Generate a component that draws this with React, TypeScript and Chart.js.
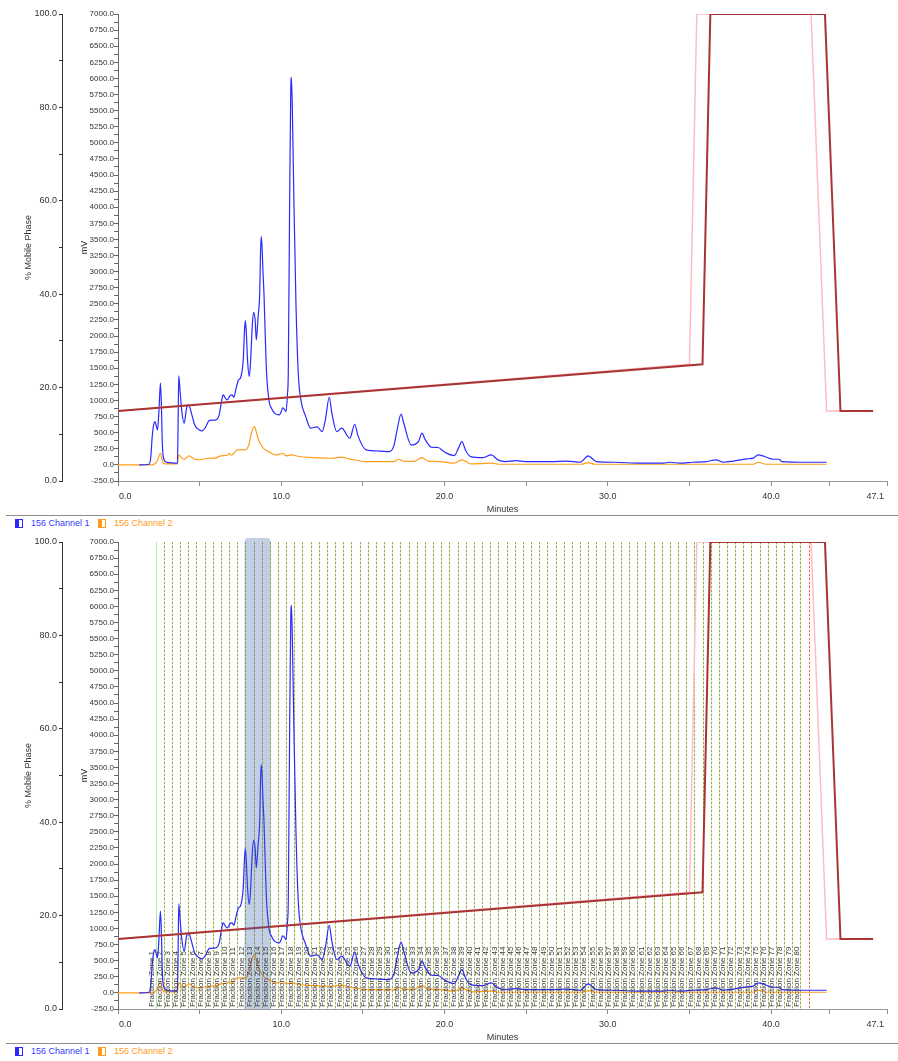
import React, { useEffect, useRef } from 'react';
import { Chart, registerables } from 'chart.js';

Chart.register(...registerables);

const FONT = '"Liberation Sans", Arial, sans-serif';

// ---- Channel 1 (blue), mV ----
const blueTime = [1.3, 1.9, 2.0, 2.1, 2.2, 2.27, 2.35, 2.42, 2.5, 2.6, 2.66, 2.72, 2.82, 3.0, 3.3, 3.64, 3.68, 3.72, 3.8, 3.9, 4.05, 4.2, 4.33, 4.5, 4.7, 5.0, 5.15, 5.35, 5.6, 6.0, 6.2, 6.35, 6.44, 6.6, 6.7, 6.85, 6.98, 7.1, 7.2, 7.38, 7.5, 7.67, 7.75, 7.8, 7.86, 7.94, 8.04, 8.12, 8.22, 8.3, 8.4, 8.47, 8.58, 8.68, 8.73, 8.77, 8.82, 8.88, 8.94, 9.02, 9.1, 9.26, 9.4, 9.6, 9.88, 10.0, 10.08, 10.2, 10.29, 10.38, 10.43, 10.51, 10.58, 10.62, 10.68, 10.78, 10.9, 11.04, 11.2, 11.5, 11.8, 12.2, 12.5, 12.7, 12.94, 13.1, 13.4, 13.7, 14.2, 14.5, 14.7, 15.2, 16.0, 16.6, 16.9, 17.1, 17.34, 17.5, 17.96, 18.4, 18.62, 18.8, 19.2, 19.6, 20.0, 20.6, 20.85, 21.06, 21.3, 21.6, 22.35, 22.86, 23.27, 23.7, 24.4, 24.95, 26.5, 27.5, 28.3, 28.8, 29.3, 30.5, 31.96, 33.4, 33.8, 34.4, 35.2, 36.05, 36.6, 37.1, 37.7, 38.5, 38.9, 39.2, 39.6, 40.15, 40.5, 40.65, 42.2, 43.4];
const blueMv = [0, 10, 100, 450, 640, 672, 600, 545, 800, 1268, 900, 300, 80, 40, 30, 26, 600, 1381, 1150, 850, 647, 880, 931, 800, 620, 540, 528, 580, 690, 700, 780, 1000, 1086, 1030, 1009, 1070, 1086, 1050, 1150, 1319, 1350, 1630, 2100, 2240, 2050, 1600, 1370, 1600, 2150, 2370, 2250, 1940, 2300, 2665, 3300, 3543, 3400, 3000, 2665, 2000, 1428, 983, 880, 800, 776, 830, 885, 860, 828, 1100, 1428, 4009, 5800, 6017, 5500, 4009, 2500, 1428, 1009, 750, 570, 590, 517, 700, 1050, 800, 517, 570, 414, 631, 450, 233, 215, 207, 300, 550, 787, 650, 310, 362, 492, 400, 274, 270, 200, 144, 260, 362, 220, 129, 113, 155, 78, 52, 67, 52, 52, 60, 41, 140, 52, 41, 26, 26, 41, 26, 41, 52, 78, 41, 60, 93, 104, 155, 130, 88, 88, 52, 41, 41];

// ---- Channel 2 (orange), mV ----
const orangeTime = [0, 2.1, 2.4, 2.6, 2.72, 2.82, 3.64, 3.72, 3.9, 4.05, 4.34, 4.7, 5.0, 5.5, 6.0, 6.3, 6.7, 6.82, 6.95, 7.3, 7.8, 8.0, 8.2, 8.37, 8.5, 8.65, 8.9, 9.2, 9.7, 10.1, 10.3, 10.6, 11.1, 11.9, 13.1, 13.7, 14.2, 15.2, 16.9, 17.2, 17.5, 18.2, 18.6, 19.0, 19.7, 20.6, 21.06, 21.6, 22.86, 23.4, 28.4, 28.8, 29.2, 38.9, 39.2, 39.7, 43.4];
const orangeMv = [0, 0, 60, 181, 60, 15, 15, 155, 110, 88, 140, 88, 80, 103, 110, 140, 150, 175, 150, 233, 233, 300, 520, 595, 480, 362, 260, 207, 155, 181, 140, 155, 130, 115, 103, 120, 90, 52, 52, 88, 55, 60, 114, 60, 52, 26, 78, 16, 26, 10, 10, 36, 10, 10, 41, 10, 10];

// ---- Gradient (% mobile phase) ----
const actualTime = [0, 35.8, 36.28, 43.3, 44.25, 46.25];
const actualPct = [15, 25, 100, 100, 15, 15];
const programTime = [0, 35.0, 35.45, 42.45, 43.4, 46.25];
const programPct = [15, 25, 100, 100, 15, 15];

// ---- Axes ----
const xMin = 0;
const xMax = 47.1;
const xTickValues = [0, 5, 10, 15, 20, 25, 30, 35, 40, 43.6, 47.1];
const xLabelValues = [0, 10, 20, 30, 40, 47.1];
const pctTickValues = [0, 10, 20, 30, 40, 50, 60, 70, 80, 90, 100];
const pctLabelStep = 20;
const mvMin = -250;
const mvMax = 7000;
const mvMinorStep = 125;
const mvLabelStep = 250;

// ---- Fraction collection ----
const zoneFirst = 2.3;
const zoneWidth = 0.5;
const zoneCount = 80;
const collectionEnd = 42.3;
const selectedStart = 7.75;
const selectedEnd = 9.35;

const legendItems = [
  { name: '156 Channel 1', color: '#2a2aff', text: '#3a3aff' },
  { name: '156 Channel 2', color: '#ff9d1c', text: '#ff9a1a' },
];

const pts = (xs: number[], ys: number[]) => xs.map((x, i) => ({ x, y: ys[i] }));

const xLabelPlugin = {
  id: 'xLabels',
  afterDraw(chart: any) {
    const { ctx } = chart;
    const x = chart.scales.x;
    ctx.save();
    ctx.font = `9px ${FONT}`;
    ctx.fillStyle = '#333';
    ctx.textBaseline = 'middle';
    xLabelValues.forEach((v, i) => {
      const px = x.getPixelForValue(v);
      let align: CanvasTextAlign = 'center';
      let dx = 0;
      if (i === 0) { align = 'left'; dx = 1; }
      else if (i === xLabelValues.length - 1) { align = 'right'; dx = -3; }
      ctx.textAlign = align;
      ctx.fillText(v.toFixed(1), px + dx, x.top + 16);
    });
    ctx.restore();
  },
};

const zonePlugin = {
  id: 'zones',
  beforeDatasetsDraw(chart: any) {
    const { ctx, chartArea } = chart;
    const x = chart.scales.x;
    const { top, bottom } = chartArea;
    const vline = (px: number) => {
      ctx.beginPath();
      ctx.moveTo(px, top);
      ctx.lineTo(px, bottom);
      ctx.stroke();
    };
    ctx.save();
    ctx.lineWidth = 1;
    for (let k = 0; k < zoneCount; k++) {
      const px = Math.round(x.getPixelForValue(zoneFirst + k * zoneWidth)) + 0.5;
      if (k === 0) {
        ctx.setLineDash([]);
        ctx.strokeStyle = '#a8eea8';
        vline(px);
      } else {
        ctx.setLineDash([]);
        ctx.strokeStyle = '#d9e9bd';
        vline(px);
        ctx.setLineDash([2, 2]);
        ctx.strokeStyle = '#9eae3c';
        vline(px);
      }
    }
    const ex = Math.round(x.getPixelForValue(collectionEnd)) + 0.5;
    ctx.setLineDash([]);
    ctx.strokeStyle = '#ffd6d6';
    vline(ex);
    ctx.setLineDash([2, 2]);
    ctx.strokeStyle = '#ff5a5a';
    vline(ex);
    ctx.restore();
  },
  afterDatasetsDraw(chart: any) {
    const { ctx, chartArea } = chart;
    const x = chart.scales.x;
    const { top, bottom } = chartArea;
    ctx.save();
    const x0 = x.getPixelForValue(selectedStart);
    const x1 = x.getPixelForValue(selectedEnd);
    const yt = top - 4;
    const r = 4;
    ctx.beginPath();
    ctx.moveTo(x0, bottom);
    ctx.lineTo(x0, yt + r);
    ctx.quadraticCurveTo(x0, yt, x0 + r, yt);
    ctx.lineTo(x1 - r, yt);
    ctx.quadraticCurveTo(x1, yt, x1, yt + r);
    ctx.lineTo(x1, bottom);
    ctx.closePath();
    ctx.fillStyle = 'rgba(62, 104, 168, 0.32)';
    ctx.fill();
    ctx.font = `8px ${FONT}`;
    ctx.fillStyle = '#3a3a3a';
    ctx.textAlign = 'left';
    ctx.textBaseline = 'middle';
    for (let k = 0; k < zoneCount; k++) {
      const px = x.getPixelForValue(zoneFirst + k * zoneWidth) - 4;
      ctx.save();
      ctx.translate(px, bottom - 2);
      ctx.rotate(-Math.PI / 2);
      ctx.fillText('Fraction Zone ' + (k + 1), 0, 0);
      ctx.restore();
    }
    ctx.restore();
  },
};

function buildConfig(withZones: boolean): any {
  return {
    type: 'line',
    data: {
      datasets: [
        {
          label: 'Gradient',
          data: pts(actualTime, actualPct),
          yAxisID: 'pct',
          borderColor: '#a93434',
          borderWidth: 2,
          pointRadius: 0,
          tension: 0,
          order: 0,
        },
        {
          label: 'Programmed gradient',
          data: pts(programTime, programPct),
          yAxisID: 'pct',
          borderColor: '#ffbcc8',
          borderWidth: 1.5,
          pointRadius: 0,
          tension: 0,
          order: 1,
        },
        {
          label: legendItems[0].name,
          data: pts(blueTime, blueMv),
          yAxisID: 'mv',
          borderColor: legendItems[0].color,
          borderWidth: 1.2,
          pointRadius: 0,
          cubicInterpolationMode: 'monotone',
          order: 2,
        },
        {
          label: legendItems[1].name,
          data: pts(orangeTime, orangeMv),
          yAxisID: 'mv',
          borderColor: legendItems[1].color,
          borderWidth: 1.2,
          pointRadius: 0,
          cubicInterpolationMode: 'monotone',
          order: 3,
        },
      ],
    },
    options: {
      responsive: false,
      maintainAspectRatio: false,
      animation: false,
      events: [],
      layout: { padding: { top: 14, right: 11, bottom: 0, left: 0 } },
      plugins: { legend: { display: false }, tooltip: { enabled: false } },
      scales: {
        x: {
          type: 'linear',
          position: 'bottom',
          min: xMin,
          max: xMax,
          afterBuildTicks: (s: any) => { s.ticks = xTickValues.map((v) => ({ value: v })); },
          ticks: { display: false, autoSkip: false },
          grid: { drawOnChartArea: false, drawTicks: true, tickLength: 5, tickColor: '#8a8a8a' },
          border: { display: true, color: '#9a9a9a' },
          title: { display: true, text: 'Minutes', color: '#333', font: { size: 9, family: FONT }, padding: 0 },
          afterFit: (s: any) => { s.height = 34; },
        },
        pct: {
          type: 'linear',
          position: 'left',
          weight: 2,
          min: 0,
          max: 100,
          afterBuildTicks: (s: any) => { s.ticks = pctTickValues.map((v) => ({ value: v })); },
          ticks: {
            autoSkip: false,
            padding: 2,
            color: '#333',
            font: { size: 9, family: FONT },
            callback: (v: any) => (Number(v) % pctLabelStep === 0 ? Number(v).toFixed(1) : ''),
          },
          grid: { drawOnChartArea: false, drawTicks: true, tickLength: 3, tickColor: '#333' },
          border: { display: true, color: '#333' },
          title: { display: true, text: '% Mobile Phase', color: '#333', font: { size: 9, family: FONT }, padding: { top: 23, bottom: 0 } },
          afterFit: (s: any) => { s.width = 62; },
        },
        mv: {
          type: 'linear',
          position: 'left',
          weight: 1,
          min: mvMin,
          max: mvMax,
          afterBuildTicks: (s: any) => {
            const t: any[] = [];
            for (let v = mvMin; v <= mvMax; v += mvMinorStep) t.push({ value: v });
            s.ticks = t;
          },
          ticks: {
            autoSkip: false,
            padding: 0,
            color: '#333',
            font: { size: 8, family: FONT },
            callback: (v: any) => (Number(v) % mvLabelStep === 0 ? Number(v).toFixed(1) : ''),
          },
          grid: { drawOnChartArea: false, drawTicks: true, tickLength: 4, tickColor: '#666' },
          border: { display: true, color: '#666' },
          title: { display: true, text: 'mV', color: '#333', font: { size: 9, family: FONT }, padding: { top: 17, bottom: 0 } },
          afterFit: (s: any) => { s.width = 56; },
        },
      },
    },
    plugins: withZones ? [zonePlugin, xLabelPlugin] : [xLabelPlugin],
  };
}

function ChartBlock({ top, withZones }: { top: number; withZones: boolean }) {
  const ref = useRef<HTMLCanvasElement | null>(null);
  useEffect(() => {
    if (!ref.current) return;
    const chart = new Chart(ref.current, buildConfig(withZones));
    return () => chart.destroy();
  }, [withZones]);

  const legendText: React.CSSProperties = {
    position: 'absolute',
    top: 518,
    fontFamily: FONT,
    fontSize: 9,
    lineHeight: '11px',
    whiteSpace: 'nowrap',
  };
  const icon = (color: string, left: number): React.CSSProperties => ({
    position: 'absolute',
    top: 519,
    left,
    width: 8,
    height: 9,
    boxSizing: 'border-box',
    border: `1px solid ${color}`,
    background: `linear-gradient(to right, ${color} 50%, #ffffff 50%)`,
  });

  return (
    <div style={{ position: 'absolute', top, left: 0, width: 898, height: 528 }}>
      <canvas ref={ref} width={898} height={515} style={{ position: 'absolute', top: 0, left: 0, display: 'block' }} />
      <div style={{ position: 'absolute', top: 515, left: 6, width: 892, height: 1, background: '#8e8e8e' }} />
      <div style={icon(legendItems[0].color, 15)} />
      <div style={{ ...legendText, left: 31, color: legendItems[0].text }}>{legendItems[0].name}</div>
      <div style={icon(legendItems[1].color, 98)} />
      <div style={{ ...legendText, left: 114, color: legendItems[1].text }}>{legendItems[1].name}</div>
    </div>
  );
}

export default function App() {
  return (
    <div style={{ position: 'absolute', top: 0, left: 0, width: 898, height: 1061, background: '#ffffff' }}>
      <ChartBlock top={0} withZones={false} />
      <ChartBlock top={528} withZones={true} />
    </div>
  );
}
